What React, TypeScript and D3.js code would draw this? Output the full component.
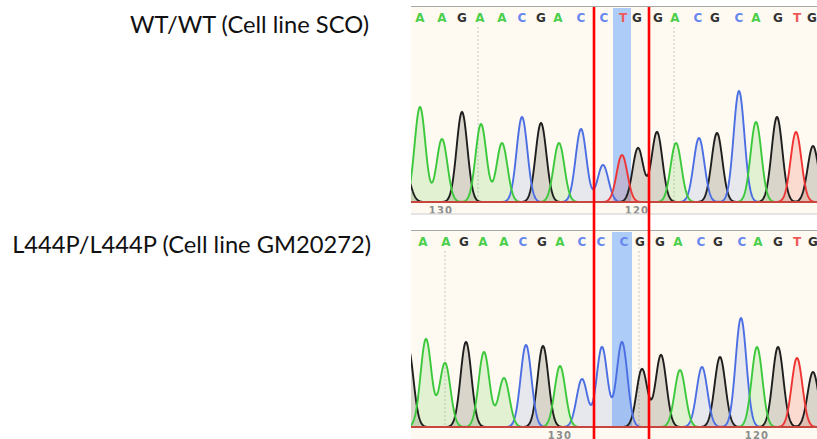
import React from "react";
import * as d3 from "d3";

// ---------- data ----------
const panelTitles = ["WT/WT (Cell line SCO)", "L444P/L444P (Cell line GM20272)"];

// Panel 1 (WT) peaks: base, scan position, signal height
const wtPeakBases = ["A","A","G","A","A","C","G","A","C","C","T","G","G","A","C","G","C","A","G","T","G","G"];
const wtPeakScans = [20, 42, 62, 81, 102, 122, 141, 159, 181, 203, 222, 238, 257, 276, 299, 317, 339, 356, 377, 396, 413, 5];
const wtPeakHeights = [950, 630, 900, 780, 590, 850, 790, 590, 730, 370, 470, 540, 700, 590, 640, 690, 1110, 800, 850, 700, 560, 300];
const wtCallLetters = ["A","A","G","A","A","C","G","A","C","C","T","G","G","A","C","G","C","A","G","T","G"];
const wtCallScans = [20, 42, 62, 80, 102, 122, 141, 158, 181, 204, 223, 237, 258, 275, 298, 315, 339, 356, 378, 397, 412];
const wtTickLabels = ["130", "120"];
const wtTickScans = [41, 237];
const wtDashScans = [78, 274];
const wtHighlight = [213, 231];

// Panel 2 (L444P) peaks
const mutPeakBases = ["G","A","A","G","A","A","C","G","A","C","C","C","G","G","A","C","G","C","A","G","T","G"];
const mutPeakScans = [8, 26, 45, 66, 84, 104, 126, 143, 160, 182, 202, 222, 242, 261, 280, 302, 320, 341, 357, 378, 397, 413];
const mutPeakHeights = [800, 880, 640, 850, 750, 490, 820, 810, 610, 480, 800, 850, 580, 720, 570, 600, 700, 1090, 800, 800, 690, 550];
const mutCallLetters = ["A","A","G","A","A","C","G","A","C","C","C","G","G","A","C","G","C","A","G","T","G"];
const mutCallScans = [23, 46, 64, 83, 104, 123, 142, 160, 182, 201, 224, 240, 260, 278, 301, 318, 342, 358, 378, 397, 413];
const mutTickLabels = ["130", "120"];
const mutTickScans = [160, 357];
const mutDashScans = [45, 239];
const mutHighlight = [212, 232];

const cutScans = [194, 249];

// ---------- styles ----------
const LINE: Record<string, string> = { A: "#3cc83c", C: "#4b6fe3", G: "#1e1e1e", T: "#ef3434" };
const FILL: Record<string, string> = {
  A: "rgba(110,205,90,0.20)",
  C: "rgba(120,135,225,0.17)",
  G: "rgba(90,80,65,0.22)",
  T: "rgba(240,110,90,0.22)",
};
const LETTER: Record<string, string> = { A: "#4ccf4c", C: "#6887ef", G: "#333333", T: "#f05858" };
const SIGMA = 5.4;

type PanelProps = {
  id: string;
  top: number;
  baseline: number;
  bottom: number | null;
  peakBases: string[];
  peakScans: number[];
  peakHeights: number[];
  callLetters: string[];
  callScans: number[];
  tickLabels: string[];
  tickScans: number[];
  dashScans: number[];
  highlight: number[];
};

const X0 = 411;
const X1 = 817;
const x = d3.scaleLinear().domain([11, 417]).range([X0, X1]);

function Panel(p: PanelProps) {
  const y = d3.scaleLinear().domain([0, 1000]).range([p.baseline, p.baseline - 100]);
  const samples = d3.range(0, 420.5, 0.5);
  const channels = ["G", "C", "A", "T"];
  const area = d3
    .area<[number, number]>()
    .x((d) => x(d[0]))
    .y0(p.baseline)
    .y1((d) => y(d[1]))
    .curve(d3.curveLinear);
  const line = d3
    .line<[number, number]>()
    .x((d) => x(d[0]))
    .y((d) => y(d[1]))
    .curve(d3.curveLinear);

  const traces = channels.map((ch) => {
    const pts: [number, number][] = samples.map((s) => {
      let v = 0;
      p.peakBases.forEach((b, i) => {
        if (b === ch) {
          const dx = s - p.peakScans[i];
          v += p.peakHeights[i] * Math.exp(-(dx * dx) / (2 * SIGMA * SIGMA));
        }
      });
      return [s, v];
    });
    return { ch, pts };
  });

  const clipId = `clip-${p.id}`;
  const bottomY = p.bottom ?? 439;
  return (
    <g>
      <defs>
        <clipPath id={clipId}>
          <rect x={X0} y={p.top} width={X1 - X0} height={bottomY - p.top} />
        </clipPath>
      </defs>
      <g clipPath={`url(#${clipId})`}>
        <rect x={X0} y={p.top} width={X1 - X0} height={bottomY - p.top} fill="#fefaf1" />
        <rect
          x={x(p.highlight[0])}
          y={p.top + 2}
          width={x(p.highlight[1]) - x(p.highlight[0])}
          height={p.baseline - p.top - 2}
          fill="#adccf7"
        />
        {p.dashScans.map((s, i) => (
          <line
            key={"d" + i}
            x1={x(s)}
            x2={x(s)}
            y1={p.top + 21}
            y2={p.baseline}
            stroke="#c4c4c4"
            strokeWidth={1}
            strokeDasharray="2,2"
          />
        ))}
        {traces.map((t) => (
          <path key={"f" + t.ch} d={area(t.pts) ?? ""} fill={FILL[t.ch]} />
        ))}
        {traces.map((t) => (
          <path key={"l" + t.ch} d={line(t.pts) ?? ""} fill="none" stroke={LINE[t.ch]} strokeWidth={1.9} />
        ))}
        <line x1={X0} x2={X1} y1={p.baseline} y2={p.baseline} stroke="#c9463f" strokeWidth={2} />
        {p.callLetters.map((b, i) => (
          <text
            key={"c" + i}
            x={x(p.callScans[i])}
            y={p.top + 15.5}
            textAnchor="middle"
            fontFamily="DejaVu Sans, sans-serif"
            fontWeight="bold"
            fontSize={12}
            fill={LETTER[b]}
          >
            {b}
          </text>
        ))}
        {p.tickLabels.map((t, i) => (
          <text
            key={"t" + i}
            x={x(p.tickScans[i])}
            y={p.baseline + 11.5}
            textAnchor="middle"
            fontFamily="DejaVu Sans, sans-serif"
            fontWeight="bold"
            fontSize={10}
            letterSpacing={1.2}
            fill="#8c8c8c"
          >
            {t}
          </text>
        ))}
      </g>
      <line x1={X0} x2={X1} y1={p.top + 0.5} y2={p.top + 0.5} stroke="#a8a8a8" strokeWidth={1.2} />
      {p.bottom !== null && (
        <line x1={X0} x2={X1} y1={p.bottom} y2={p.bottom} stroke="#dcdcdc" strokeWidth={1.5} />
      )}
    </g>
  );
}

export default function App() {
  return (
    <svg
      width={817}
      height={439}
      style={{ position: "absolute", left: 0, top: 0, background: "#ffffff" }}
    >
      <rect x={0} y={0} width={817} height={439} fill="#ffffff" />
      <text x={369} y={33} textAnchor="end" fontFamily="Lato, sans-serif" fontSize={23.7} fill="#111">
        {panelTitles[0]}
      </text>
      <text x={371} y={253} textAnchor="end" fontFamily="Lato, sans-serif" fontSize={23.7} fill="#111">
        {panelTitles[1]}
      </text>
      <Panel
        id="wt"
        top={6}
        baseline={202}
        bottom={214}
        peakBases={wtPeakBases}
        peakScans={wtPeakScans}
        peakHeights={wtPeakHeights}
        callLetters={wtCallLetters}
        callScans={wtCallScans}
        tickLabels={wtTickLabels}
        tickScans={wtTickScans}
        dashScans={wtDashScans}
        highlight={wtHighlight}
      />
      <Panel
        id="mut"
        top={230}
        baseline={427}
        bottom={null}
        peakBases={mutPeakBases}
        peakScans={mutPeakScans}
        peakHeights={mutPeakHeights}
        callLetters={mutCallLetters}
        callScans={mutCallScans}
        tickLabels={mutTickLabels}
        tickScans={mutTickScans}
        dashScans={mutDashScans}
        highlight={mutHighlight}
      />
      {cutScans.map((s, i) => (
        <line key={"r" + i} x1={x(s)} x2={x(s)} y1={7} y2={439} stroke="#ff0000" strokeWidth={2.6} />
      ))}
    </svg>
  );
}
